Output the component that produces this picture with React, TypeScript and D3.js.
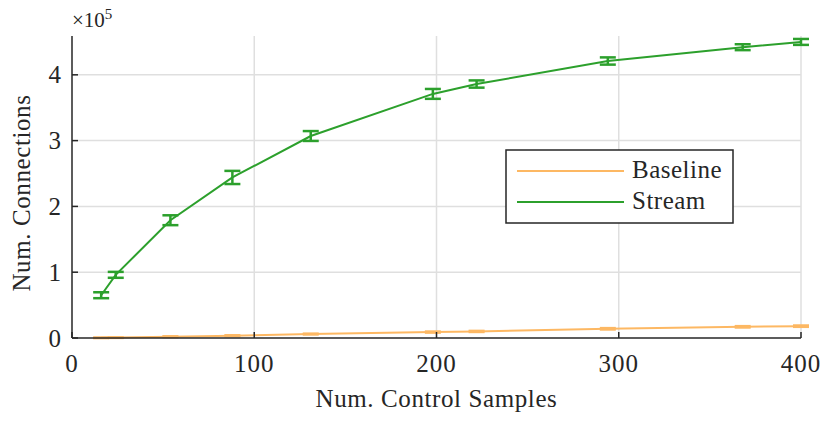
import React from "react";
import * as d3 from "d3";

const samples = [16, 24, 54, 88, 131, 198, 222, 294, 368, 400];
const streamMean = [0.65, 0.96, 1.79, 2.44, 3.07, 3.71, 3.86, 4.21, 4.42, 4.5];
const streamErr = [0.045, 0.045, 0.075, 0.1, 0.075, 0.075, 0.055, 0.055, 0.045, 0.045];
const baselineMean = [0.003, 0.006, 0.02, 0.035, 0.06, 0.09, 0.1, 0.14, 0.17, 0.18];
const baselineErr = [0.004, 0.004, 0.005, 0.006, 0.006, 0.008, 0.008, 0.01, 0.01, 0.01];
const xTicks = [0, 100, 200, 300, 400];
const yTicks = [0, 1, 2, 3, 4];
const seriesNames = ["Baseline", "Stream"];
const seriesColors = ["#fdb863", "#2ca02c"];

const W = 830;
const H = 424;
const m = { left: 72, right: 29, top: 36, bottom: 86 };
const font = "'Liberation Serif', 'DejaVu Serif', serif";
const fs = 25;

export default function App() {
  const x = d3.scaleLinear().domain([0, 400]).range([m.left, W - m.right]);
  const y = d3.scaleLinear().domain([0, 4.59]).range([H - m.bottom, m.top]);
  const line = d3
    .line<number>()
    .x((_, i) => x(samples[i]))
    .y((d) => y(d));
  const series = [
    { mean: baselineMean, err: baselineErr, color: seriesColors[0], w: 2 },
    { mean: streamMean, err: streamErr, color: seriesColors[1], w: 2 },
  ];
  const capHalf = 8;
  const lx = 506, ly = 150, lw = 227, lh = 73;
  return (
    <svg width={W} height={H} style={{ position: "absolute", left: 0, top: 0 }}>
      <rect width={W} height={H} fill="#fff" />
      {xTicks.filter((t) => t > 0).map((t) => (
        <line key={"gx" + t} x1={x(t)} x2={x(t)} y1={y(0)} y2={m.top} stroke="#dfdfdf" strokeWidth={1.5} />
      ))}
      {yTicks.filter((t) => t > 0).map((t) => (
        <line key={"gy" + t} x1={x(0)} x2={x(400)} y1={y(t)} y2={y(t)} stroke="#dfdfdf" strokeWidth={1.5} />
      ))}
      {series.map((s, k) => (
        <g key={"s" + k}>
          <path d={line(s.mean) || ""} fill="none" stroke={s.color} strokeWidth={s.w} />
          {s.mean.map((v, i) => {
            const cx = x(samples[i]);
            const t = y(v + s.err[i]);
            const b = y(v - s.err[i]);
            return (
              <g key={i} stroke={s.color} strokeWidth={2.5}>
                <line x1={cx} x2={cx} y1={t} y2={b} />
                <line x1={cx - capHalf} x2={cx + capHalf} y1={t} y2={t} />
                <line x1={cx - capHalf} x2={cx + capHalf} y1={b} y2={b} />
              </g>
            );
          })}
        </g>
      ))}
      <line x1={x(0)} x2={x(400)} y1={y(0)} y2={y(0)} stroke="#262626" strokeWidth={1.5} />
      <line x1={x(0)} x2={x(0)} y1={y(0)} y2={m.top} stroke="#262626" strokeWidth={1.5} />
      {xTicks.map((t) => (
        <g key={"xt" + t}>
          <line x1={x(t)} x2={x(t)} y1={y(0)} y2={y(0) - 6} stroke="#262626" strokeWidth={1.5} />
          <text x={x(t)} y={y(0) + 34} textAnchor="middle" fontFamily={font} fontSize={fs} letterSpacing={1} fill="#262626">
            {t}
          </text>
        </g>
      ))}
      {yTicks.map((t) => (
        <g key={"yt" + t}>
          <line x1={x(0)} x2={x(0) + 6} y1={y(t)} y2={y(t)} stroke="#262626" strokeWidth={1.5} />
          <text x={x(0) - 11} y={y(t) + 8.5} textAnchor="end" fontFamily={font} fontSize={fs} fill="#262626">
            {t}
          </text>
        </g>
      ))}
      <text x={72} y={27} fontFamily={font} fontSize={21} fill="#262626">
        ×10<tspan dy={-8} fontSize={15}>5</tspan>
      </text>
      <text x={(x(0) + x(400)) / 2} y={407} textAnchor="middle" fontFamily={font} fontSize={fs} letterSpacing={0.6} fill="#262626">
        Num. Control Samples
      </text>
      <text
        transform={`translate(30,${(y(0) + m.top) / 2 + 6}) rotate(-90)`}
        textAnchor="middle"
        fontFamily={font}
        fontSize={fs}
        letterSpacing={0.6}
        fill="#262626"
      >
        Num. Connections
      </text>
      <rect x={lx} y={ly} width={lw} height={lh} fill="#fff" stroke="#262626" strokeWidth={1.5} />
      {seriesNames.map((n, i) => (
        <g key={n}>
          <line x1={lx + 11} x2={lx + 118} y1={ly + 21 + i * 31} y2={ly + 21 + i * 31} stroke={seriesColors[i]} strokeWidth={2} />
          <text x={lx + 126} y={ly + 27.5 + i * 31} fontFamily={font} fontSize={fs} letterSpacing={0.5} fill="#262626">
            {n}
          </text>
        </g>
      ))}
    </svg>
  );
}
